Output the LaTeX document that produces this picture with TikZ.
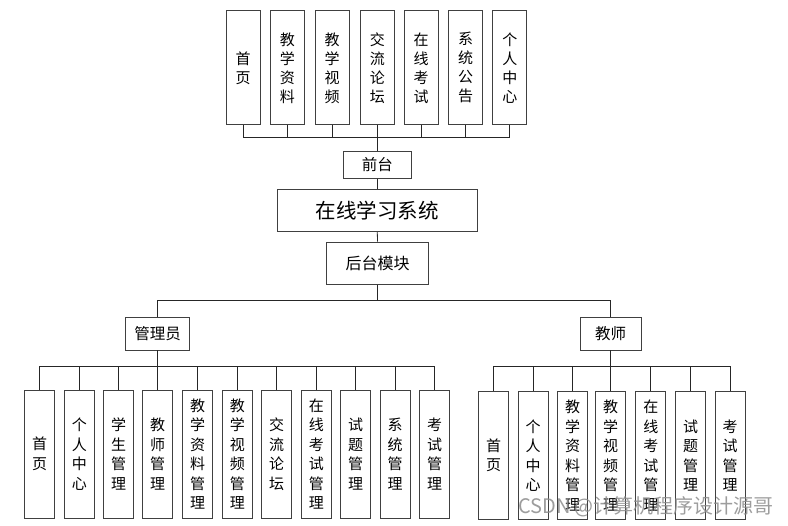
\documentclass[tikz,border=0pt]{standalone}
\usepackage{fontspec}
\setmainfont{Noto Sans CJK SC}
\tikzset{
  box/.style={draw=black!75, line width=0.8pt, inner sep=0pt, align=center},
  topbox/.style={box, minimum width=34pt, minimum height=114pt, font=\fontsize{15}{19}\selectfont},
  leafbox/.style={box, minimum width=30pt, minimum height=128pt, font=\fontsize{15}{19.5}\selectfont},
  link/.style={draw=black!85, line width=0.8pt}
}
\begin{document}
\begin{tikzpicture}[x=1pt,y=-1pt]
  \useasboundingbox (0,0) rectangle (788,526);

  % front end
  \foreach \x/\t [count=\i] in {243/{首\\页}, 287.3/{教\\学\\资\\料}, 332.2/{教\\学\\视\\频},
      377.3/{交\\流\\论\\坛}, 421.2/{在\\线\\考\\试}, 465.5/{系\\统\\公\\告}, 509.8/{个\\人\\中\\心}}
    \node[topbox] (q\i) at (\x,67.9) {\t};
  \node[box, minimum width=68.7pt, minimum height=26.6pt, font=\fontsize{15.5}{15.5}\selectfont] (qt) at (377.3,165) {前台};
  \node[box, minimum width=200.7pt, minimum height=42.4pt, font=\fontsize{20.5}{20.5}\selectfont] (sys) at (377.3,210.5) {在线学习系统};
  \node[box, minimum width=101.6pt, minimum height=42.3pt, font=\fontsize{16}{16}\selectfont] (ht) at (377.5,263.2) {后台模块};

  % back end
  \node[box, minimum width=63.6pt, minimum height=32.7pt, font=\fontsize{15.5}{15.5}\selectfont] (gly) at (157.5,333.7) {管理员};
  \node[box, minimum width=61pt, minimum height=32.3pt, font=\fontsize{15.5}{15.5}\selectfont] (js) at (610.5,333.9) {教师};

  \foreach \x/\t [count=\i] in {39.7/{首\\页}, 79.3/{个\\人\\中\\心}, 118.7/{学\\生\\管\\理}, 157.7/{教\\师\\管\\理},
      197.7/{教\\学\\资\\料\\管\\理}, 237.3/{教\\学\\视\\频\\管\\理}, 276.7/{交\\流\\论\\坛},
      316.3/{在\\线\\考\\试\\管\\理}, 355.7/{试\\题\\管\\理}, 395.2/{系\\统\\管\\理}, 434.7/{考\\试\\管\\理}}
    \node[leafbox] (a\i) at (\x,454) {\t};
  \foreach \x/\t [count=\i] in {493.7/{首\\页}, 533.2/{个\\人\\中\\心}, 572.5/{教\\学\\资\\料\\管\\理},
      610.5/{教\\学\\视\\频\\管\\理}, 650.8/{在\\线\\考\\试\\管\\理}, 690.5/{试\\题\\管\\理}, 730/{考\\试\\管\\理}}
    \node[leafbox] (j\i) at (\x,455.5) {\t};

  \coordinate (busq) at (377.3,137.3);
  \coordinate (bush) at (377.5,300);
  \coordinate (busa) at (157.5,366.3);
  \coordinate (busj) at (610.5,366.3);

  \foreach \i in {1,...,7}
    \draw[link] (q\i.south) |- (busq);
  \draw[link] (busq) -- (qt.north);
  \draw[link] (qt.south) -- (sys.north);
  \draw[link] (sys.south) -- (ht.north);
  \draw[link] (ht.south) -- (bush);
  \draw[link] (bush) -| (gly.north);
  \draw[link] (bush) -| (js.north);
  \draw[link] (gly.south) -- (busa);
  \draw[link] (js.south) -- (busj);
  \foreach \i in {1,...,11}
    \draw[link] (busa) -| (a\i.north);
  \foreach \i in {1,...,7}
    \draw[link] (busj) -| (j\i.north);

  \node[text=black!45, opacity=0.85, font=\fontsize{20}{20}\selectfont] (wm) at (646,507) {CSDN @计算机程序设计源哥};
\end{tikzpicture}
\end{document}
